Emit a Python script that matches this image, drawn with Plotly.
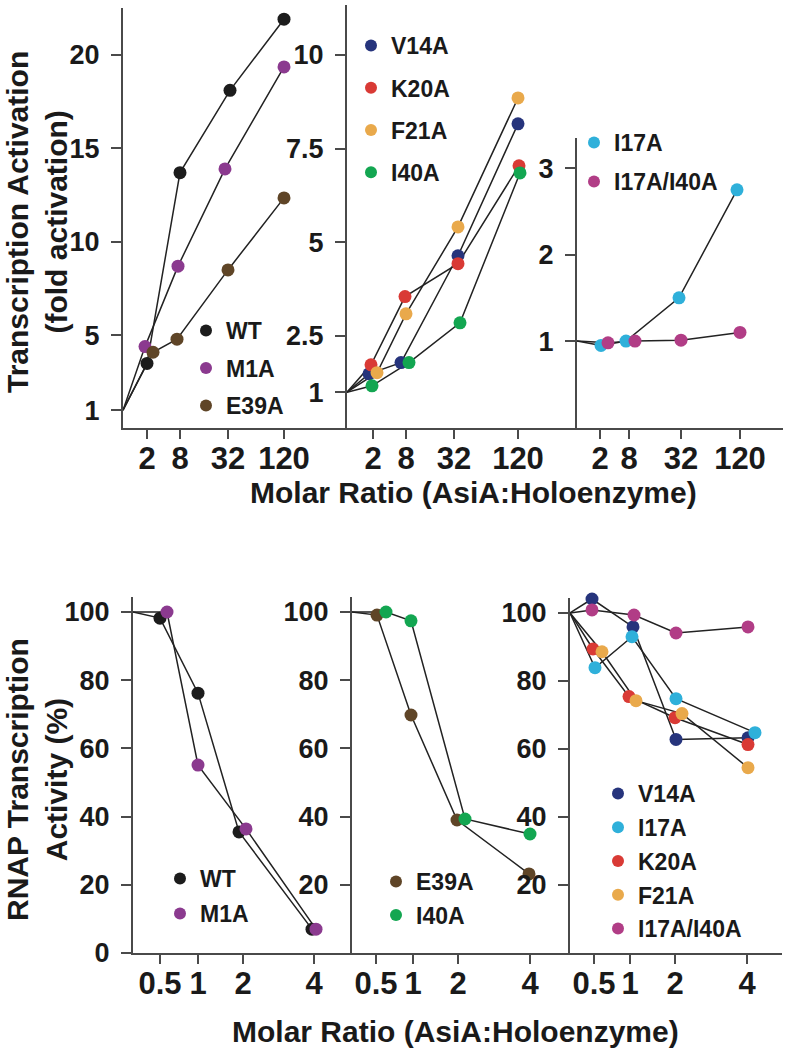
import plotly.graph_objects as go

W, H = 788, 1050
FONT = "Liberation Sans, Arial, Helvetica, sans-serif"

# ---------------- data ----------------
top_ratios = [0, 2, 8, 32, 120]
top_tick_labels = ["2", "8", "32", "120"]
bottom_ratios = [0, 0.5, 1, 2, 4]
bottom_tick_labels = ["0.5", "1", "2", "4"]

# fold activation (top row)
top_A = {
    "WT":   [1, 3.5, 13.7, 18.1, 21.9],
    "M1A":  [1, 4.4, 8.7, 13.9, 19.35],
    "E39A": [1, 4.1, 4.8, 8.5, 12.35],
}
top_B = {
    "V14A": [1, 1.49, 1.79, 4.64, 8.16],
    "K20A": [1, 1.73, 3.55, 4.43, 7.04],
    "F21A": [1, 1.52, 3.09, 5.41, 8.85],
    "I40A": [1, 1.17, 1.79, 2.85, 6.85],
}
top_C = {
    "I17A":      [1, 0.95, 1.0, 1.5, 2.75],
    "I17A/I40A": [1, 0.98, 1.0, 1.01, 1.1],
}
# RNAP transcription activity % (bottom row)
bot_D = {
    "WT":  [100, 98.2, 76.2, 35.5, 7.0],
    "M1A": [100, 100.0, 55.1, 36.4, 7.0],
}
bot_E = {
    "E39A": [100, 99.1, 69.8, 39.0, 23.2],
    "I40A": [100, 100.0, 97.4, 39.3, 34.9],
}
bot_F = {
    "V14A":      [100, 104.1, 95.9, 62.8, 63.3],
    "I17A":      [100, 83.9, 93.0, 74.8, 64.8],
    "K20A":      [100, 89.4, 75.4, 69.2, 61.3],
    "F21A":      [100, 88.6, 74.2, 70.4, 54.5],
    "I17A/I40A": [100, 100.9, 99.4, 94.1, 95.9],
}

# ---------------- styles ----------------
colors = {
    "WT": "#1c1c1c", "M1A": "#8b3a8f", "E39A": "#5f4527",
    "V14A": "#26347c", "K20A": "#d93a35", "F21A": "#e9a94b",
    "I40A": "#13a651", "I17A": "#2fb0da", "I17A/I40A": "#b13d86",
}
LINE_COLOR = "#222222"
AXIS_COLOR = "#4a4a4a"

def px_x(p):
    return p / W

def px_y(p):
    return 1 - p / H

# axis placement of the ordinal ratio ticks (px from the y-axis line)
panels = [
    dict(key="A", data=top_A, ratios=top_ratios, ticklab=top_tick_labels,
         dom_x=(123, 347), dom_y=(8, 428), yrange=(0.05, 22.5),
         ytv=[1, 5, 10, 15, 20], ytt=["1", "5", "10", "15", "20"],
         tickpos=[0, 24, 57, 105, 161],
         dodge={"WT": [0, 0, 0, 2, 0], "M1A": [0, -2, -2, -3, 0], "E39A": [0, 6, -3, 0, 0]},
         leg=(206, 330, 37.5)),
    dict(key="B", data=top_B, ratios=top_ratios, ticklab=top_tick_labels,
         dom_x=(347, 577), dom_y=(5, 428), yrange=(0.045, 11.33),
         ytv=[1, 2.5, 5, 7.5, 10], ytt=["1", "2.5", "5", "7.5", "10"],
         tickpos=[0, 26, 59, 107, 171],
         dodge={"V14A": [0, -4, -5, 4, 0], "K20A": [0, -2, -1, 4, 1],
                "F21A": [0, 4, 0, 4, 0], "I40A": [0, -1, 3, 6, 2]},
         leg=(371, 45, 42.3)),
    dict(key="C", data=top_C, ratios=top_ratios, ticklab=top_tick_labels,
         dom_x=(577, 783), dom_y=(138, 428), yrange=(-0.006, 3.35),
         ytv=[1, 2, 3], ytt=["1", "2", "3"],
         tickpos=[0, 23, 52, 104, 163],
         dodge={"I17A": [0, 1, -3, -2, -3], "I17A/I40A": [0, 8, 6, 0, 0]},
         leg=(594, 142, 39)),
    dict(key="D", data=bot_D, ratios=bottom_ratios, ticklab=bottom_tick_labels,
         dom_x=(133, 352), dom_y=(597, 953), yrange=(0, 104.4),
         ytv=[0, 20, 40, 60, 80, 100], ytt=["0", "20", "40", "60", "80", "100"],
         tickpos=[0, 27, 65, 110, 181],
         dodge={"WT": [0, 0, 0, -4, -2], "M1A": [0, 7, 0, 3, 2]},
         leg=(180, 878, 35)),
    dict(key="E", data=bot_E, ratios=bottom_ratios, ticklab=bottom_tick_labels,
         dom_x=(352, 570), dom_y=(597, 953), yrange=(0, 104.4),
         ytv=[20, 40, 60, 80, 100], ytt=["20", "40", "60", "80", "100"],
         tickpos=[0, 24, 61, 106, 178],
         dodge={"E39A": [0, 1, -2, -1, -1], "I40A": [0, 10, -2, 7, 0]},
         leg=(396, 881, 33.5)),
    dict(key="F", data=bot_F, ratios=bottom_ratios, ticklab=bottom_tick_labels,
         dom_x=(570, 782), dom_y=(598, 953), yrange=(0, 104.4),
         ytv=[20, 40, 60, 80, 100], ytt=["20", "40", "60", "80", "100"],
         tickpos=[0, 24, 60, 105, 177],
         dodge={"V14A": [0, -2, 3, 1, 1], "I17A": [0, 1, 2, 1, 8], "K20A": [0, -1, -1, 0, 1],
                "F21A": [0, 8, 6, 7, 1], "I17A/I40A": [0, -2, 4, 1, 1]},
         leg=(618, 793, 33.75)),
]

LEG_FS = 23
MK = 13

fig = go.Figure()
layout = dict(
    width=W, height=H, margin=dict(l=0, r=0, t=0, b=0, pad=0, autoexpand=False),
    paper_bgcolor="white", plot_bgcolor="rgba(0,0,0,0)",
    font=dict(family=FONT, color="#1a1a1a"),
    showlegend=True,
)

for i, p in enumerate(panels):
    n = i + 1
    xa = "x" if n == 1 else f"x{n}"
    ya = "y" if n == 1 else f"y{n}"
    legname = "legend" if n == 1 else f"legend{n}"
    pos = dict(zip(p["ratios"], p["tickpos"]))

    # lines first
    for name, vals in p["data"].items():
        xs = [pos[r] + d for r, d in zip(p["ratios"], p["dodge"][name])]
        fig.add_trace(go.Scatter(x=xs, y=vals, mode="lines", xaxis=xa, yaxis=ya,
                                 line=dict(color=LINE_COLOR, width=1.5),
                                 showlegend=False, hoverinfo="skip", cliponaxis=False))
    # markers on top (origin point carries no marker)
    for name, vals in p["data"].items():
        xs = [pos[r] + d for r, d in zip(p["ratios"], p["dodge"][name])]
        fig.add_trace(go.Scatter(x=xs[1:], y=vals[1:], mode="markers", xaxis=xa, yaxis=ya,
                                 name=name, legend=legname, legendgroup=f"{p['key']}_{name}",
                                 marker=dict(color=colors[name], size=MK),
                                 showlegend=True, cliponaxis=False))

    x0, x1 = p["dom_x"]
    y0, y1 = p["dom_y"]
    axkey_x = "xaxis" if n == 1 else f"xaxis{n}"
    axkey_y = "yaxis" if n == 1 else f"yaxis{n}"
    layout[axkey_x] = dict(
        domain=[px_x(x0), px_x(x1)], anchor=ya, range=[0, x1 - x0],
        showline=True, linecolor=AXIS_COLOR, linewidth=2, showgrid=False, zeroline=False,
        ticks="outside", ticklen=9, tickwidth=2, tickcolor=AXIS_COLOR,
        tickvals=p["tickpos"][1:], ticktext=p["ticklab"], ticklabelstandoff=-7,
        tickfont=dict(size=31, family=FONT, weight="bold", color="#1a1a1a"),
        fixedrange=True, automargin=False,
    )
    layout[axkey_y] = dict(
        domain=[px_y(y1), px_y(y0)], anchor=xa, range=list(p["yrange"]),
        showline=True, linecolor=AXIS_COLOR, linewidth=2, showgrid=False, zeroline=False,
        ticks="outside", ticklen=10, tickwidth=2, tickcolor=AXIS_COLOR,
        tickvals=p["ytv"], ticktext=p["ytt"], ticklabelstandoff=6,
        tickfont=dict(size=27, family=FONT, weight="bold", color="#1a1a1a"),
        fixedrange=True, automargin=False,
    )
    mx, my, spacing = p["leg"]
    item_h = LEG_FS * 1.3 + 3
    layout[legname] = dict(
        x=px_x(mx - 20), y=px_y(my - 21), xanchor="left", yanchor="top",
        bgcolor="rgba(0,0,0,0)", borderwidth=0,
        font=dict(size=LEG_FS, family=FONT, weight="bold", color="#1a1a1a"),
        traceorder="grouped", tracegroupgap=max(0, spacing - item_h),
        itemsizing="constant",
    )

title_font = dict(size=30, family=FONT, weight="bold", color="#1a1a1a")
layout["annotations"] = [
    dict(text="Transcription Activation<br>(fold activation)", textangle=-90,
         x=px_x(37), y=px_y(222), xref="paper", yref="paper", showarrow=False,
         xanchor="center", yanchor="middle", font=title_font),
    dict(text="RNAP Transcription<br>Activity (%)", textangle=-90,
         x=px_x(37), y=px_y(780), xref="paper", yref="paper", showarrow=False,
         xanchor="center", yanchor="middle", font=title_font),
    dict(text="Molar Ratio (AsiA:Holoenzyme)",
         x=px_x(473), y=px_y(492), xref="paper", yref="paper", showarrow=False,
         xanchor="center", yanchor="middle", font=title_font),
    dict(text="Molar Ratio (AsiA:Holoenzyme)",
         x=px_x(455), y=px_y(1031), xref="paper", yref="paper", showarrow=False,
         xanchor="center", yanchor="middle", font=title_font),
]

fig.update_layout(**layout)
fig.write_html(
    "out.html",
    config={"displayModeBar": False},
    post_script="document.body.style.margin='0px';document.body.style.padding='0px';",
)
